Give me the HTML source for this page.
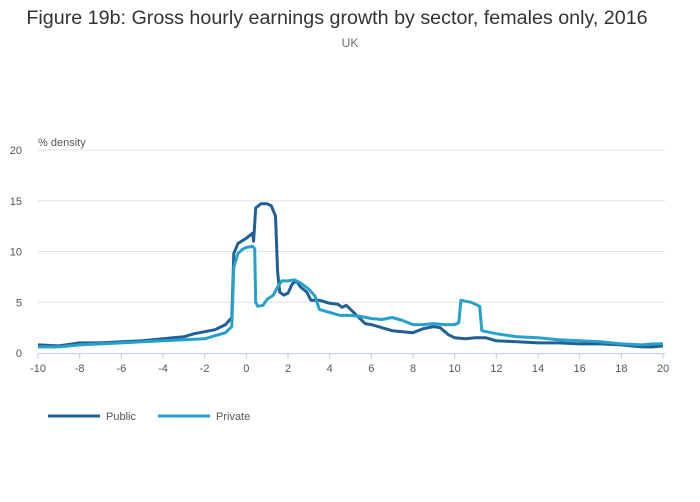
<!DOCTYPE html>
<html><head><meta charset="utf-8"><style>
body{margin:0;background:#fff;font-family:"Liberation Sans",sans-serif;}
svg{display:block}
</style></head><body>
<svg id="c" width="700" height="502">
<text x="337" y="24" text-anchor="middle" font-size="19.7" fill="#333">Figure 19b: Gross hourly earnings growth by sector, females only, 2016</text>
<text x="350" y="47" text-anchor="middle" font-size="12" fill="#707070">UK</text>
<text x="38" y="146" font-size="11" fill="#555">% density</text>
<g id="grid"></g><g id="axes"></g><g id="series"></g>
<g>
<g><line x1="48" y1="416" x2="100" y2="416" stroke="#206095" stroke-width="3"/><text x="106" y="420" font-size="11" fill="#555">Public</text></g>
<g><line x1="158" y1="416" x2="210" y2="416" stroke="#27a0cc" stroke-width="3"/><text x="216" y="420" font-size="11" fill="#555">Private</text></g>
</g>
</svg>
<script>
const xTicks=[-10,-8,-6,-4,-2,0,2,4,6,8,10,12,14,16,18,20];
const yTicks=[0,5,10,15,20];
const publicX=[-10,-9,-8,-7,-6,-5,-4,-3,-2.5,-2,-1.5,-1,-0.7,-0.6,-0.4,0,0.3,0.35,0.45,0.7,1,1.2,1.4,1.5,1.6,1.8,2,2.2,2.4,2.6,2.9,3.1,3.5,4,4.4,4.6,4.8,5.2,5.7,6,7,8,8.5,9,9.3,9.7,10,10.5,11,11.5,12,13,14,15,16,17,18,19,19.5,20];
const publicY=[0.8,0.7,1.0,1.0,1.1,1.2,1.4,1.6,1.9,2.1,2.3,2.8,3.5,9.8,10.8,11.3,11.8,11.0,14.3,14.7,14.7,14.5,13.5,8,6,5.7,5.9,6.8,7.1,6.5,6.0,5.2,5.2,4.9,4.8,4.5,4.7,3.9,2.9,2.8,2.2,2.0,2.4,2.6,2.5,1.8,1.5,1.4,1.5,1.5,1.2,1.1,1.0,1.0,0.9,0.9,0.8,0.6,0.6,0.7];
const privateX=[-10,-9,-8,-7,-6,-5,-4,-3,-2,-1.5,-1,-0.7,-0.6,-0.4,-0.2,0,0.3,0.4,0.45,0.55,0.8,1.0,1.3,1.5,1.7,2,2.3,2.6,3,3.3,3.5,4,4.5,5,5.5,6,6.5,7,7.5,8,8.5,9,9.5,10,10.2,10.3,10.5,10.8,11.2,11.3,12,13,14,15,16,17,18,19,19.5,20];
const privateY=[0.6,0.6,0.8,0.9,1.0,1.1,1.2,1.3,1.4,1.7,2.0,2.6,8.5,9.8,10.2,10.4,10.5,10.3,5.0,4.6,4.7,5.3,5.7,6.5,7.1,7.1,7.2,6.9,6.3,5.6,4.3,4.0,3.7,3.7,3.6,3.4,3.3,3.5,3.2,2.8,2.8,2.9,2.8,2.8,3.0,5.2,5.1,5.0,4.6,2.2,1.9,1.6,1.5,1.3,1.2,1.1,0.9,0.8,0.9,0.9];
const NS="http://www.w3.org/2000/svg";
const sx=v=>38+(v+10)*(625/30);
const sy=v=>353-v*(203/20);
function mk(t,a,p){const e=document.createElementNS(NS,t);for(const k in a)e.setAttribute(k,a[k]);p.appendChild(e);return e;}
const grid=document.getElementById('grid'),axes=document.getElementById('axes'),ser=document.getElementById('series');
yTicks.forEach(v=>{
 if(v>0){const l=mk('line',{x1:38,x2:665,y1:sy(v),y2:sy(v),stroke:'#e0e0e0'},grid);
 
 }
 const t=mk('text',{x:22,y:sy(v)+4,'font-size':11,fill:'#555','text-anchor':'end'},axes);t.textContent=v;
 
 
});
const ax=mk('line',{x1:38,x2:665,y1:353.5,y2:353.5,stroke:'#bfcfe0'},axes);


xTicks.forEach(v=>{
 mk('line',{x1:sx(v),x2:sx(v),y1:353,y2:359,stroke:'#bfcfe0'},axes);
 const t=mk('text',{x:sx(v),y:372,'font-size':11,fill:'#555','text-anchor':'middle'},axes);t.textContent=v;
 
 
});
function line(xs,ys,col,name){
 const d=xs.map((x,i)=>(i?'L':'M')+sx(x).toFixed(1)+','+sy(ys[i]).toFixed(1)).join('');
 const p=mk('path',{d:d,fill:'none',stroke:col,'stroke-width':3,'stroke-linejoin':'round'},ser);
 
 
}
line(publicX,publicY,'#206095','public-line');
line(privateX,privateY,'#27a0cc','private-line');
</script>
</body></html>
